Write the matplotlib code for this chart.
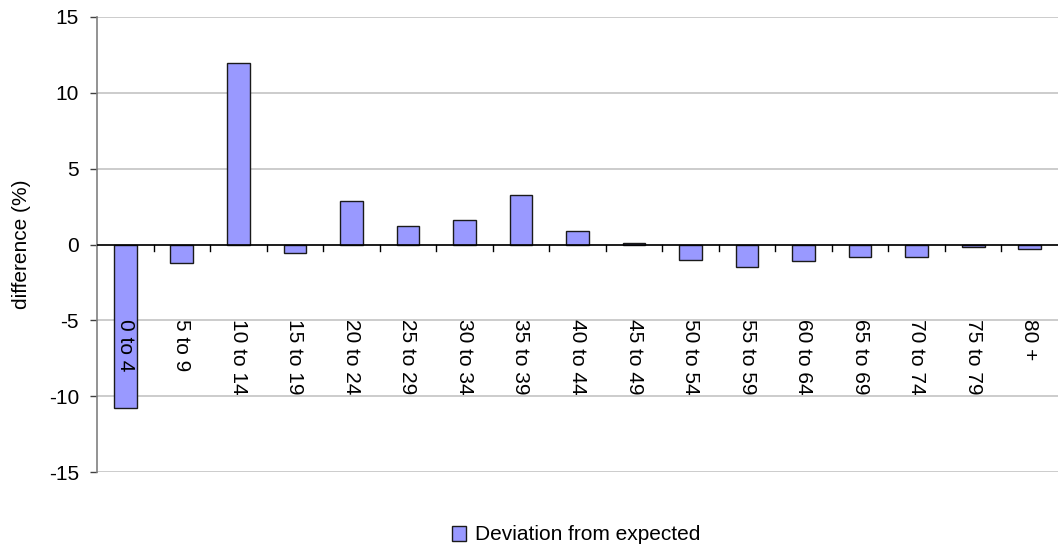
import matplotlib
matplotlib.use("Agg")
import matplotlib.pyplot as plt
import numpy as np

plt.rcParams['font.family'] = ['Liberation Sans', 'DejaVu Sans']

categories = ["0 to 4", "5 to 9", "10 to 14", "15 to 19", "20 to 24", "25 to 29",
              "30 to 34", "35 to 39", "40 to 44", "45 to 49", "50 to 54", "55 to 59",
              "60 to 64", "65 to 69", "70 to 74", "75 to 79", "80 +"]
deviation = [-10.8, -1.2, 12.0, -0.55, 2.9, 1.2, 1.6, 3.27, 0.92, 0.11,
             -1.05, -1.47, -1.07, -0.81, -0.81, -0.15, -0.28]
y_ticks = [-15, -10, -5, 0, 5, 10, 15]
series_name = "Deviation from expected"

FS = 15

fig = plt.figure(figsize=(10.58, 5.45), dpi=100)
ax = fig.add_axes([97 / 1058, 1 - 472 / 545, 1 - 97 / 1058, (472 - 17) / 545])

x = np.arange(len(categories))
bars = ax.bar(x, deviation, width=0.4, color="#9999ff", edgecolor="#1a1a1a",
              linewidth=1.0, zorder=3, label=series_name)

ax.set_xlim(-0.5, len(categories) - 0.5)
ax.set_ylim(-15, 15)
ax.set_yticks(y_ticks)
ax.set_yticklabels([str(v) for v in y_ticks], fontsize=FS)
ax.yaxis.grid(True, color="#c4c4c4", linewidth=1.2, zorder=0)
ax.tick_params(axis="y", direction="out", length=5, width=1, color="#404040", pad=8)

for side in ("top", "right", "bottom"):
    ax.spines[side].set_visible(False)
ax.spines["left"].set_color("#808080")
ax.spines["left"].set_linewidth(1.2)

# Category axis drawn along zero, with tick marks between categories
ax.set_xticks([])
ax.axhline(0, color="black", linewidth=1.2, zorder=4)
for b in np.arange(0.5, len(categories) - 0.5, 1.0):
    ax.plot([b, b], [0, -0.4], color="black", linewidth=1, zorder=4, clip_on=False)

for xi, lab in zip(x, categories):
    ax.text(xi, -4.9, lab, rotation=270, ha="center", va="top", fontsize=FS,
            zorder=5)

ax.set_ylabel("difference (%)", fontsize=FS)
ax.yaxis.set_label_coords((31 - 97) / 961, 0.5)

leg = fig.legend(handles=[bars], labels=[series_name], loc="center",
                 bbox_to_anchor=(0.5444, 1 - 535 / 545), frameon=False, fontsize=FS,
                 handlelength=0.7, handleheight=0.7, handletextpad=0.4)

fig.savefig("out.png", dpi=100)
